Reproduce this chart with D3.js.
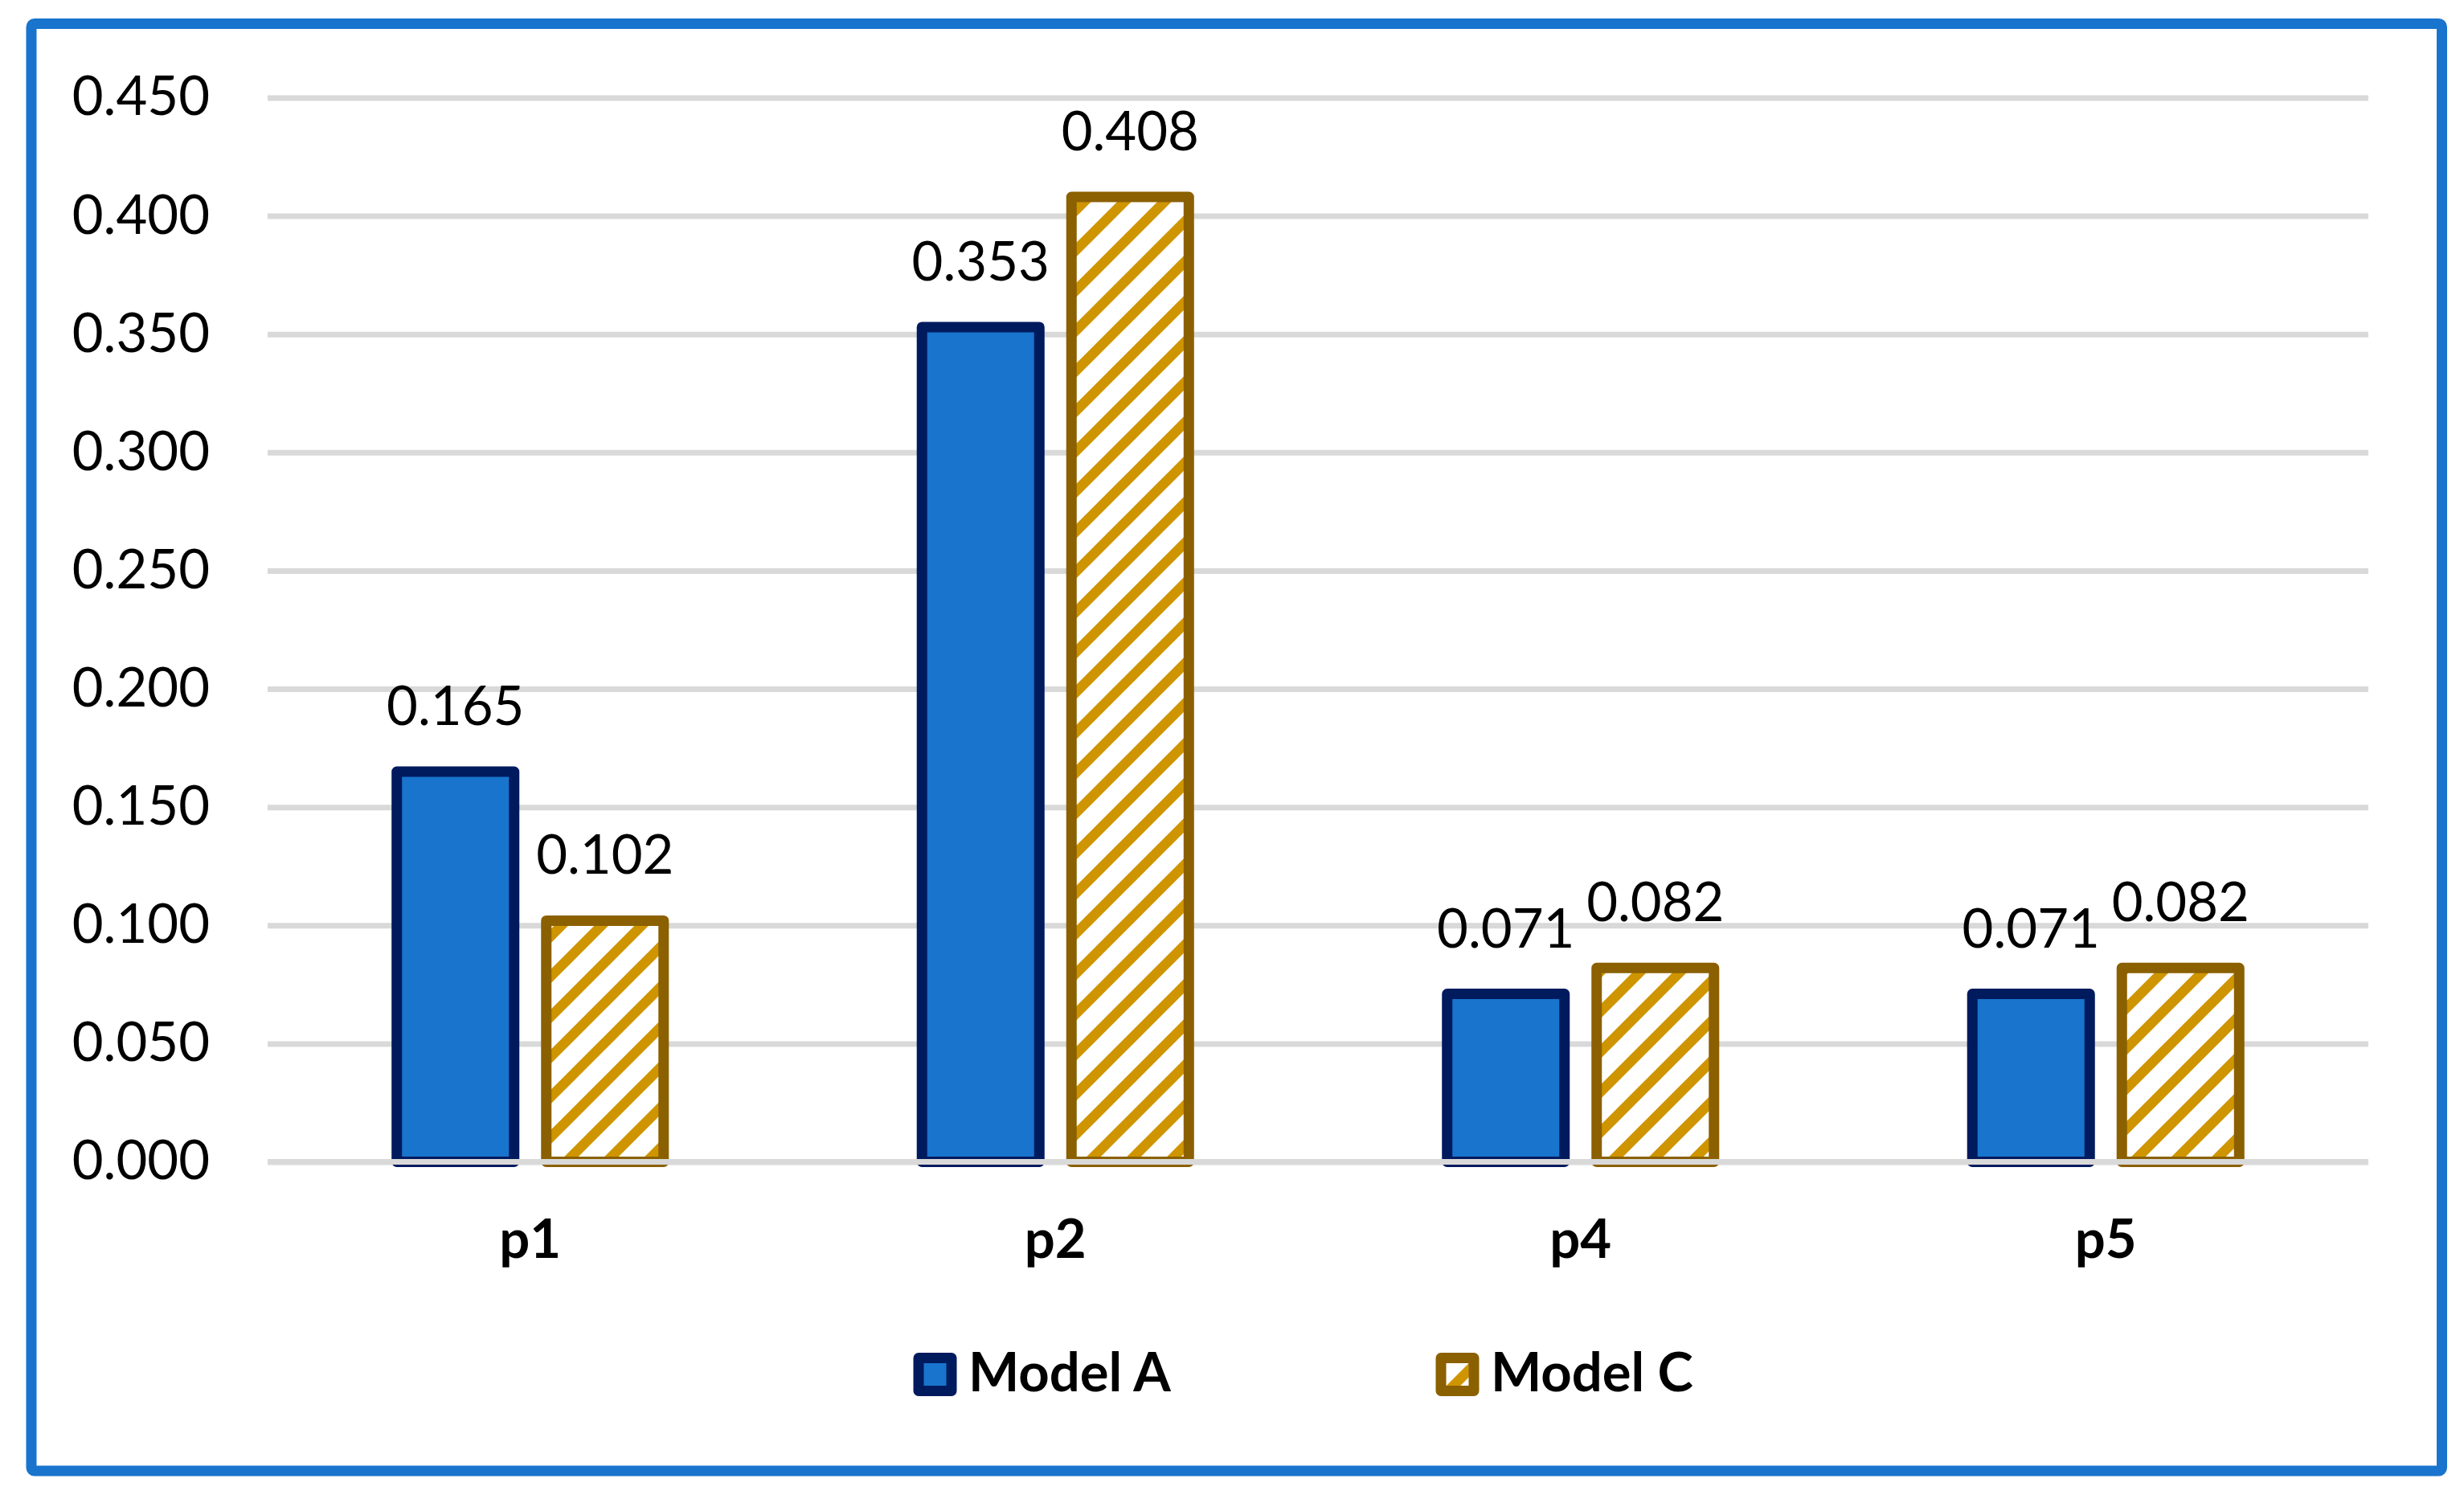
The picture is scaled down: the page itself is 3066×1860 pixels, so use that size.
<!DOCTYPE html>
<html>
<head>
<meta charset="utf-8">
<script src="https://cdn.jsdelivr.net/npm/d3@7"></script>
<style>
  body { margin: 0; background: #fff; }
  text { font-family: Lato, "Open Sans", sans-serif; fill: #000; }
</style>
</head>
<body>
<div id="chart"></div>
<script>
// values
var categories = ["p1", "p2", "p4", "p5"];
var seriesNames = ["Model A", "Model C"];
var modelA = [0.165, 0.353, 0.071, 0.071];
var modelC = [0.102, 0.408, 0.082, 0.082];
var yTicks = [0, 0.05, 0.1, 0.15, 0.2, 0.25, 0.3, 0.35, 0.4, 0.45];

drawChart();

function drawChart() {

	var W = 3066, H = 1860;
	var plot = {left: 333, right: 2947, top: 121.5, bottom: 1445.5};

	var svg = d3.select("#chart").append("svg")
		.attr("width", W)
		.attr("height", H);

	var defs = svg.append("defs");
	var hatch = defs.append("pattern")
		.attr("id", "hatch")
		.attr("patternUnits", "userSpaceOnUse")
		.attr("width", 50)
		.attr("height", 50);
	hatch.append("rect").attr("width", 50).attr("height", 50).attr("fill", "#fff");
	hatch.append("path")
		.attr("d", "M-25,25 L25,-25 M0,50 L50,0 M25,75 L75,25")
		.attr("stroke", "#cf9500")
		.attr("stroke-width", 12.5);

	var fills = {"Model A": "#1874cd", "Model C": "url(#hatch)"};
	var strokes = {"Model A": "#001a5e", "Model C": "#8b6000"};

	// outer frame
	svg.append("rect")
		.attr("x", 39).attr("y", 29.5)
		.attr("width", 2999.5).attr("height", 1800.5)
		.attr("rx", 4)
		.attr("fill", "none")
		.attr("stroke", "#1874cd")
		.attr("stroke-width", 13);

	var x0 = d3.scaleBand()
		.domain(categories)
		.range([plot.left, plot.right]);

	var x1 = d3.scaleBand()
		.domain(seriesNames)
		.range([0, x0.bandwidth()])
		.paddingInner(0.215)
		.paddingOuter(0.864);

	var y = d3.scaleLinear()
		.domain([0, 0.45])
		.range([plot.bottom, plot.top]);

	// y axis with gridlines
	var yAxis = svg.append("g")
		.attr("transform", "translate(" + plot.left + ",0)")
		.call(d3.axisLeft(y)
			.tickValues(yTicks)
			.tickFormat(d3.format(".3f"))
			.tickSize(-(plot.right - plot.left))
			.tickPadding(72));
	yAxis.select(".domain").remove();
	yAxis.selectAll(".tick line")
		.attr("stroke", "#d9d9d9")
		.attr("stroke-width", 7);
	yAxis.selectAll(".tick text")
		.attr("font-size", 67)
		.attr("font-family", "Lato, 'Open Sans', sans-serif");

	var data = [];
	categories.forEach(function(c, i) {
		data.push({cat: c, series: "Model A", value: modelA[i]});
		data.push({cat: c, series: "Model C", value: modelC[i]});
	});

	svg.append("g").selectAll("rect")
		.data(data)
		.enter().append("rect")
			.attr("x", function(d) { return x0(d.cat) + x1(d.series); })
			.attr("y", function(d) { return y(d.value); })
			.attr("width", x1.bandwidth())
			.attr("height", function(d) { return y(0) - y(d.value); })
			.attr("fill", function(d) { return fills[d.series]; })
			.attr("stroke", function(d) { return strokes[d.series]; })
			.attr("stroke-width", 13)
			.attr("stroke-linejoin", "round");

	// zero line sits on top of the bars
	svg.append("line")
		.attr("x1", plot.left).attr("x2", plot.right)
		.attr("y1", y(0)).attr("y2", y(0))
		.attr("stroke", "#d9d9d9")
		.attr("stroke-width", 7);

	// data labels
	svg.append("g").selectAll("text")
		.data(data)
		.enter().append("text")
			.attr("x", function(d) { return x0(d.cat) + x1(d.series) + x1.bandwidth() / 2; })
			.attr("y", function(d) { return y(d.value) - 58; })
			.attr("text-anchor", "middle")
			.attr("font-size", 67)
			.text(function(d) { return d3.format(".3f")(d.value); });

	// category labels
	svg.append("g").selectAll("text")
		.data(categories)
		.enter().append("text")
			.attr("x", function(d) { return x0(d) + x0.bandwidth() / 2; })
			.attr("y", 1565)
			.attr("text-anchor", "middle")
			.attr("font-size", 67)
			.attr("font-weight", "bold")
			.text(function(d) { return d; });

	// legend
	var legend = svg.append("g").selectAll("g")
		.data(seriesNames)
		.enter().append("g")
			.attr("transform", function(d, i) { return "translate(" + (1143 + i * 650) + ",1689.5)"; });

	legend.append("rect")
		.attr("width", 41).attr("height", 41)
		.attr("fill", function(d) { return fills[d]; })
		.attr("stroke", function(d) { return strokes[d]; })
		.attr("stroke-width", 13)
		.attr("stroke-linejoin", "round");

	legend.append("text")
		.attr("x", 62)
		.attr("y", 41.5)
		.attr("font-size", 67)
		.attr("font-weight", "bold")
		.text(function(d) { return d; });
}
</script>
</body>
</html>
